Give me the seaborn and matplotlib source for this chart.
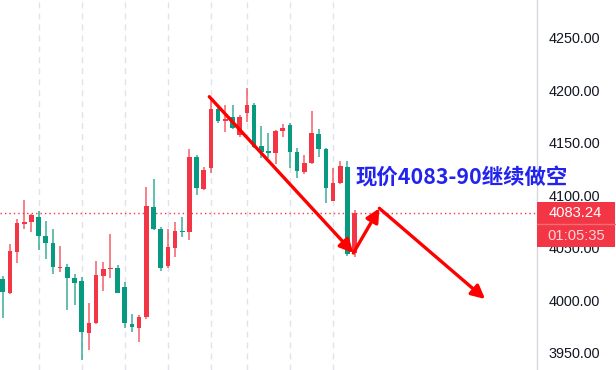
import numpy as np
import pandas as pd
import matplotlib
matplotlib.use("Agg")
import matplotlib.pyplot as plt
import seaborn as sns
from matplotlib.patches import Rectangle

# ---------------- data ----------------
opens = [4020.2, 4006.9, 4045.9, 4072.6, 4074.5, 4079.2, 4061.1, 4054.5, 4030.7, 4031.6,
         4021.1, 4018.3, 3968.8, 3978.3, 4023.0, 4029.7, 4030.7, 4012.6, 3977.3, 3973.5,
         3984.0, 4088.8, 4067.8, 4032.6, 4049.7, 4065.9, 4064.9, 4136.4, 4105.9, 4125.9,
         4182.1, 4170.7, 4174.5, 4157.3, 4178.3, 4185.9, 4146.9, 4142.1, 4140.2, 4161.1,
         4166.9, 4141.2, 4122.1, 4130.7, 4158.3, 4144.0, 4094.5, 4111.6, 4126.9, 4044.9]
closes = [4007.8, 4046.9, 4073.5, 4074.5, 4081.1, 4061.1, 4054.5, 4031.6, 4031.6, 4021.1,
          4016.4, 3969.7, 3978.3, 4024.0, 4029.7, 4030.7, 4006.9, 3978.3, 3974.5, 3984.0,
          4089.7, 4067.8, 4030.7, 4050.7, 4065.9, 4064.9, 4136.4, 4106.9, 4124.0, 4182.1,
          4170.7, 4172.6, 4164.0, 4174.5, 4185.9, 4145.9, 4141.2, 4140.2, 4161.1, 4164.0,
          4141.2, 4123.0, 4130.7, 4159.2, 4144.0, 4106.9, 4111.6, 4127.8, 4044.0, 4083.24]
highs = [4023.0, 4053.5, 4077.3, 4095.4, 4082.1, 4084.9, 4075.4, 4067.8, 4051.6, 4034.5,
         4024.9, 4022.1, 3997.3, 4037.3, 4036.4, 4063.0, 4033.5, 4017.3, 3986.9, 3985.9,
         4107.8, 4115.4, 4069.7, 4067.8, 4074.5, 4079.2, 4144.0, 4138.3, 4126.9, 4193.5,
         4184.0, 4185.9, 4185.9, 4176.4, 4202.1, 4187.8, 4165.9, 4159.2, 4162.1, 4167.8,
         4168.8, 4144.9, 4138.3, 4180.2, 4163.0, 4144.9, 4125.9, 4132.6, 4132.6, 4085.9]
lows = [3983.0, 4006.0, 4035.4, 4067.8, 4064.9, 4047.8, 4039.2, 4024.9, 4026.9, 3991.1,
        3995.0, 3943.0, 3952.6, 3977.5, 4008.8, 4021.1, 4006.5, 3973.5, 3969.7, 3960.2,
        3982.1, 4066.8, 4027.8, 4030.7, 4041.1, 4060.2, 4057.3, 4100.2, 4105.0, 4121.1,
        4168.8, 4160.2, 4163.5, 4155.4, 4169.7, 4144.9, 4135.4, 4135.5, 4129.7, 4155.4,
        4125.9, 4116.4, 4120.2, 4130.0, 4136.4, 4092.6, 4094.0, 4110.7, 4042.1, 4041.1]

ytick_values = [3950, 4000, 4050, 4100, 4150, 4200, 4250]
grid_candles = [5, 11, 17, 23, 29, 34, 40, 46]
countdown = "01:05:35"
note_text = "现价4083-90继续做空"
# drawn arrow path (candle index, price)
arrow_x = [28.77, 48.83, 52.45, 67.17]
arrow_y = [4193.8, 4044.9, 4087.5, 4001.1]

# ---------------- style ----------------
sns.set_theme(style="white")
plt.rcParams["font.family"] = ["Liberation Sans", "DejaVu Sans"]

UP = "#F23645"
DOWN = "#089981"

df = pd.DataFrame({"open": opens, "high": highs, "low": lows, "close": closes})
df["idx"] = np.arange(len(df))
df["up"] = df["close"] >= df["open"]
df["color"] = np.where(df["up"], UP, DOWN)
df["body_bottom"] = np.minimum(df["open"], df["close"])
df["body_h"] = (df["close"] - df["open"]).abs().clip(lower=1.0)

W, H = 616, 370
fig = plt.figure(figsize=(W / 100, H / 100), dpi=100)
fig.patch.set_facecolor("white")
ax = fig.add_axes([0, 0, 537 / W, 1])
ax.set_facecolor("white")

# vertical dashed grid
for g in grid_candles:
    ax.axvline(g, color="#E0E3EB", lw=1.0, linestyle=(0, (4.3, 3.6)), zorder=0)

# wicks and bodies
ax.vlines(df["idx"], df["low"], df["high"], colors=df["color"], lw=1.1,
          alpha=0.8, zorder=2)
ax.bar(df["idx"], df["body_h"], bottom=df["body_bottom"], width=0.64,
       color=df["color"], linewidth=0, zorder=3)

# last price dotted line
last = closes[-1]
ax.axhline(last, color=UP, lw=1.0, linestyle=(0, (1, 2.2)), zorder=1)

# red arrows
for i in range(len(arrow_x) - 1):
    ax.annotate("", xy=(arrow_x[i + 1], arrow_y[i + 1]), xytext=(arrow_x[i], arrow_y[i]),
                arrowprops=dict(arrowstyle="-|>,head_length=0.8,head_width=0.4",
                                color="#FF0000", lw=2.4, mutation_scale=10,
                                shrinkA=0, shrinkB=0),
                zorder=5)

# annotation text
ax.text(49.2, 4116.4, note_text, color="#2323EE", fontsize=15.4, fontweight="bold",
        family=["Noto Sans CJK SC", "DejaVu Sans"], ha="left", va="center",
        clip_on=False, zorder=6)

# axes
ax.set_xlim(-0.376, 74.4)
ax.set_ylim(3933.5, 4285.9)
ax.set_xticks([])
ax.yaxis.tick_right()
ax.set_yticks(ytick_values)
ax.set_yticklabels([f"{v:.2f}" for v in ytick_values])
ax.tick_params(axis="y", length=0, pad=8.6, labelsize=10.4, labelcolor="#131722")
for s in ["top", "left", "bottom"]:
    ax.spines[s].set_visible(False)
ax.spines["right"].set_color("#D6D9E0")
ax.spines["right"].set_linewidth(1.0)
ax.grid(False)

# price label box on the axis
x0 = 537 / W
bw = 78 / W
top = 1 - 201.7 / H
bot = 1 - 246.7 / H
mid = 1 - 224.3 / H
fig.patches.append(Rectangle((x0, bot), bw, top - bot, transform=fig.transFigure,
                             facecolor=UP, edgecolor="none", zorder=10))
fig.lines.append(plt.Line2D([x0, x0 + bw], [mid, mid], transform=fig.transFigure,
                            color="#F56B78", lw=1.0, zorder=11))
fig.text(575.7 / W, 1 - 213.3 / H, f"{last:.2f}", color="white", fontsize=10.6,
         ha="center", va="center", zorder=12)
fig.text(575.7 / W, 1 - 236.0 / H, countdown, color="#FDD5D9", fontsize=10.6,
         ha="center", va="center", zorder=12)

fig.savefig("out.png", dpi=100, facecolor="white")
